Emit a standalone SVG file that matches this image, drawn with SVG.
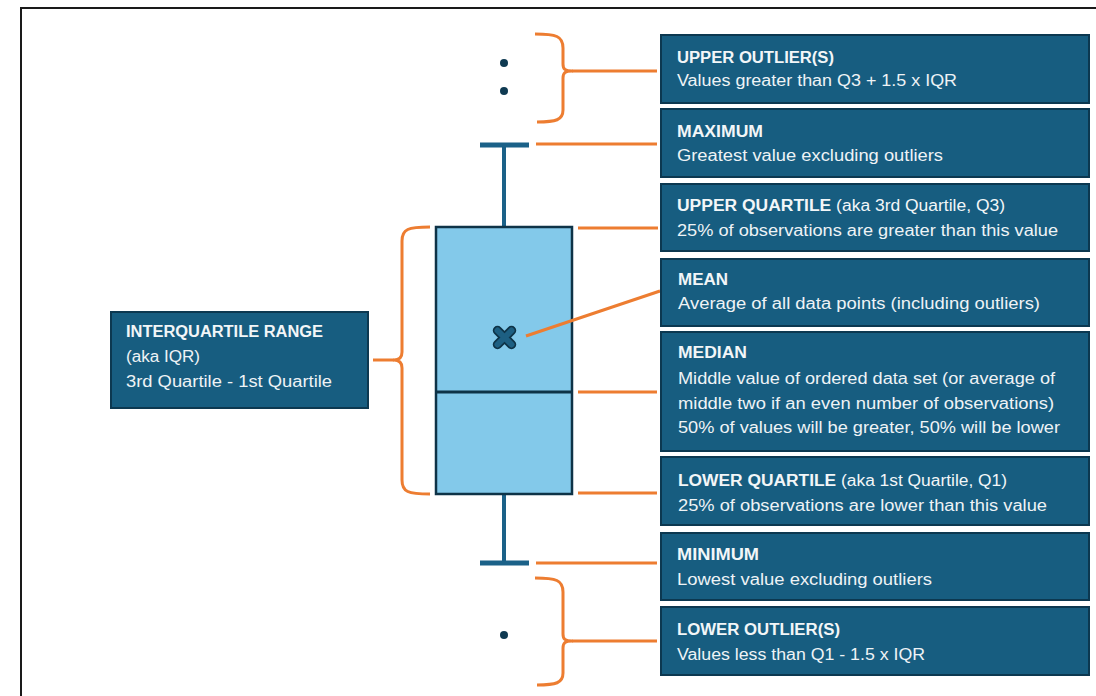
<svg xmlns="http://www.w3.org/2000/svg" width="1096" height="696" viewBox="0 0 1096 696">
  <style>
    .card { fill: #175d80; stroke: #0c3850; stroke-width: 2; }
    .ttl { font-family: "Liberation Sans", Arial, sans-serif; font-size: 16px; font-weight: bold; fill: #f2f6f8; }
    .txt { font-family: "Liberation Sans", Arial, sans-serif; font-size: 16px; fill: #eef3f6; }
    .reg { font-weight: normal; }
    .lead { fill: none; stroke: #ed7d31; stroke-width: 3; stroke-linecap: butt; stroke-linejoin: round; }
    .whisker { fill: none; stroke: #1b6188; stroke-width: 4; }
    .cap { fill: none; stroke: #1b6188; stroke-width: 5; }
    .pt { fill: #0f3a52; }
  </style>

  <rect width="1096" height="696" fill="#ffffff"/>
  <!-- page frame -->
  <rect x="21" y="8" width="1100" height="700" fill="none" stroke="#1a1a1a" stroke-width="2"/>

  <!-- box plot -->
  <g id="boxplot">
    <line class="whisker" x1="504" y1="145" x2="504" y2="227"/>
    <line class="cap" x1="480" y1="145" x2="529" y2="145"/>
    <line class="whisker" x1="504" y1="494" x2="504" y2="563"/>
    <line class="cap" x1="480" y1="563" x2="529" y2="563"/>
    <rect x="436" y="227" width="136" height="267" fill="#83c9ea" stroke="#0e3347" stroke-width="2.5"/>
    <line x1="436" y1="392" x2="572" y2="392" stroke="#0e3347" stroke-width="3"/>
    <circle class="pt" cx="504" cy="63" r="4"/>
    <circle class="pt" cx="504" cy="91" r="4"/>
    <circle class="pt" cx="504" cy="635" r="4"/>
  </g>

  <!-- mean marker -->
  <g id="mean-marker">
    <path d="M497.5 330.5 L511.5 344.5 M511.5 330.5 L497.5 344.5" stroke="#0e3347" stroke-width="9.5" stroke-linecap="round"/>
    <path d="M497.5 330.5 L511.5 344.5 M511.5 330.5 L497.5 344.5" stroke="#1d5f82" stroke-width="6" stroke-linecap="round"/>
  </g>

  <!-- leader lines and braces -->
  <g id="connectors">
    <path class="lead" d="M535 34 C556 34 563 36 563 48 L563 64 C563 69 565 71 572 71 C565 71 563 73 563 78 L563 110 C563 120 556 122 537 122"/>
    <line class="lead" x1="572" y1="71" x2="657" y2="71"/>
    <line class="lead" x1="536" y1="144" x2="657" y2="144"/>
    <line class="lead" x1="578" y1="228" x2="658" y2="228"/>
    <line class="lead" x1="526" y1="336" x2="660" y2="291"/>
    <line class="lead" x1="578" y1="392" x2="657" y2="392"/>
    <line class="lead" x1="578" y1="493" x2="657" y2="493"/>
    <line class="lead" x1="536" y1="563" x2="657" y2="563"/>
    <path class="lead" d="M535 578 C556 578 563 580 563 592 L563 634 C563 639 565 641 572 641 C565 641 563 643 563 648 L563 673 C563 683 556 685 537 685"/>
    <line class="lead" x1="572" y1="641" x2="657" y2="641"/>
    <path class="lead" d="M430 227 C408 227 402 229 402 241 L402 352 C402 357 400 360 394 360 C400 360 402 363 402 368 L402 480 C402 492 408 494 430 494"/>
    <line class="lead" x1="373" y1="360" x2="394" y2="360"/>
  </g>

  <!-- labels -->
  <g id="iqr">
    <rect class="card" x="111" y="312" width="257" height="96"/>
    <text class="ttl" x="126" y="337" textLength="197" lengthAdjust="spacingAndGlyphs">INTERQUARTILE RANGE</text>
    <text class="txt" x="126" y="362" textLength="74" lengthAdjust="spacingAndGlyphs">(aka IQR)</text>
    <text class="txt" x="126" y="387" textLength="206" lengthAdjust="spacingAndGlyphs">3rd Quartile - 1st Quartile</text>
  </g>

  <g id="upper-outliers">
    <rect class="card" x="661" y="35" width="428" height="68"/>
    <text class="ttl" x="677" y="63" textLength="157" lengthAdjust="spacingAndGlyphs">UPPER OUTLIER(S)</text>
    <text class="txt" x="677" y="86" textLength="280" lengthAdjust="spacingAndGlyphs">Values greater than Q3 + 1.5 x  IQR</text>
  </g>

  <g id="maximum">
    <rect class="card" x="661" y="109" width="428" height="68"/>
    <text class="ttl" x="677" y="137" textLength="86" lengthAdjust="spacingAndGlyphs">MAXIMUM</text>
    <text class="txt" x="677" y="161" textLength="266" lengthAdjust="spacingAndGlyphs">Greatest value excluding outliers</text>
  </g>

  <g id="upper-quartile">
    <rect class="card" x="661" y="184" width="428" height="67"/>
    <text class="ttl" x="677" y="211" textLength="328" lengthAdjust="spacingAndGlyphs">UPPER QUARTILE<tspan class="reg"> (aka 3rd Quartile, Q3)</tspan></text>
    <text class="txt" x="677" y="236" textLength="381" lengthAdjust="spacingAndGlyphs">25% of observations are greater than this value</text>
  </g>

  <g id="mean">
    <rect class="card" x="661" y="259" width="428" height="67"/>
    <text class="ttl" x="678" y="285" textLength="50" lengthAdjust="spacingAndGlyphs">MEAN</text>
    <text class="txt" x="678" y="309" textLength="362" lengthAdjust="spacingAndGlyphs">Average of all data points (including outliers)</text>
  </g>

  <g id="median">
    <rect class="card" x="661" y="332" width="428" height="119"/>
    <text class="ttl" x="678" y="358" textLength="69" lengthAdjust="spacingAndGlyphs">MEDIAN</text>
    <text class="txt" x="678" y="384" textLength="377" lengthAdjust="spacingAndGlyphs">Middle value of ordered data set (or average of</text>
    <text class="txt" x="678" y="409" textLength="376" lengthAdjust="spacingAndGlyphs">middle two if an even number of observations)</text>
    <text class="txt" x="678" y="433" textLength="382" lengthAdjust="spacingAndGlyphs">50% of values will be greater, 50% will be lower</text>
  </g>

  <g id="lower-quartile">
    <rect class="card" x="661" y="457" width="428" height="68"/>
    <text class="ttl" x="678" y="486" textLength="329" lengthAdjust="spacingAndGlyphs">LOWER QUARTILE<tspan class="reg"> (aka 1st Quartile, Q1)</tspan></text>
    <text class="txt" x="678" y="511" textLength="369" lengthAdjust="spacingAndGlyphs">25% of observations are lower than this value</text>
  </g>

  <g id="minimum">
    <rect class="card" x="661" y="533" width="428" height="67"/>
    <text class="ttl" x="677" y="560" textLength="82" lengthAdjust="spacingAndGlyphs">MINIMUM</text>
    <text class="txt" x="677" y="585" textLength="255" lengthAdjust="spacingAndGlyphs">Lowest value excluding outliers</text>
  </g>

  <g id="lower-outliers">
    <rect class="card" x="661" y="607" width="428" height="68"/>
    <text class="ttl" x="677" y="635" textLength="163" lengthAdjust="spacingAndGlyphs">LOWER OUTLIER(S)</text>
    <text class="txt" x="677" y="660" textLength="248" lengthAdjust="spacingAndGlyphs">Values less than Q1 - 1.5 x IQR</text>
  </g>
</svg>
